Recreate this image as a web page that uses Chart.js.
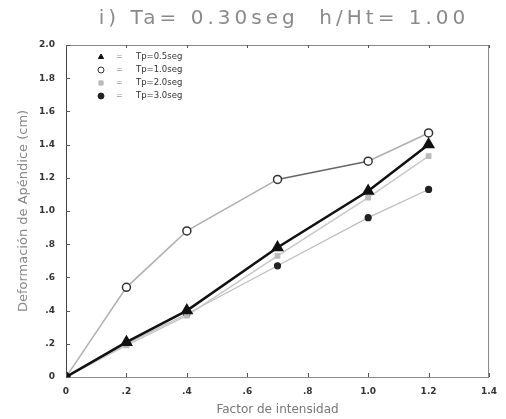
<!DOCTYPE html>
<html><head><meta charset="utf-8">
<script src="https://cdn.jsdelivr.net/npm/chart.js@4"></script>
<style>html,body{margin:0;padding:0;background:#fff;}#wrap{width:506px;height:419px;}</style>
</head><body><div id="wrap"><canvas id="c" width="506" height="419"></canvas></div>
<script>
const titleText = 'i) Ta= 0.30seg  h/Ht= 1.00';
const xTitle = 'Factor de intensidad';
const yTitle = 'Deformación de Apéndice (cm)';
const intensity = [0, 0.2, 0.4, 0.7, 1.0, 1.2];
const seriesLabels = ['Tp=0.5seg', 'Tp=1.0seg', 'Tp=2.0seg', 'Tp=3.0seg'];
const tp05 = [0, 0.21, 0.40, 0.78, 1.12, 1.40];
const tp10 = [0, 0.54, 0.88, 1.19, 1.30, 1.47];
const tp20 = [0, 0.19, 0.37, 0.73, 1.08, 1.33];
const tp30 = [0, 0.20, 0.38, 0.67, 0.96, 1.13];
const xTickValues = [0, 0.2, 0.4, 0.6, 0.8, 1.0, 1.2, 1.4];
const xTickLabels = ['0', '.2', '.4', '.6', '.8', '1.0', '1.2', '1.4'];
const yTickValues = [0, 0.2, 0.4, 0.6, 0.8, 1.0, 1.2, 1.4, 1.6, 1.8, 2.0];
const yTickLabels = ['0', '.2', '.4', '.6', '.8', '1.0', '1.2', '1.4', '1.6', '1.8', '2.0'];

function pts(arr) { return intensity.map((x, i) => ({ x: x, y: arr[i] })); }

const deco = {
  id: 'deco',
  afterDraw(chart) {
    const ctx = chart.ctx, a = chart.chartArea;
    const xs = chart.scales.x, ys = chart.scales.y;
    ctx.save();
    // frame
    ctx.strokeStyle = '#888'; ctx.lineWidth = 1;
    ctx.strokeRect(a.left + 0.5, a.top + 0.5, a.right - a.left - 1, a.bottom - a.top);
    ctx.strokeStyle = '#444';
    ctx.beginPath(); ctx.moveTo(a.left + 0.5, a.top); ctx.lineTo(a.left + 0.5, a.bottom); ctx.stroke();
    // inward ticks
    ctx.strokeStyle = '#555';
    ctx.beginPath();
    yTickValues.forEach(v => { const y = Math.round(ys.getPixelForValue(v)) + 0.5; ctx.moveTo(a.left, y); ctx.lineTo(a.left + 4, y); });
    xTickValues.forEach(v => { const x = Math.round(xs.getPixelForValue(v)) + 0.5; ctx.moveTo(x, a.bottom); ctx.lineTo(x, a.bottom - 4); ctx.moveTo(x, a.top); ctx.lineTo(x, a.top + 3); });
    ctx.stroke();
    // legend
    chart.data.datasets.forEach((ds, i) => {
      const y = a.top + 12 + i * 13;
      ctx.fillStyle = ds.pointBackgroundColor; ctx.strokeStyle = ds.pointBorderColor; ctx.lineWidth = 1;
      Chart.helpers.drawPoint(ctx, { pointStyle: ds.pointStyle, radius: 3, borderWidth: 1, rotation: 0 }, 101, y);
      ctx.font = '8px "DejaVu Sans"'; ctx.fillStyle = '#999'; ctx.textBaseline = 'middle'; ctx.textAlign = 'left';
      ctx.fillText('=', 116, y);
      ctx.fillStyle = '#333';
      ctx.font = '8.5px "DejaVu Sans"';
      ctx.fillText(ds.label, 136, y);
    });
    // title
    ctx.font = '20px "DejaVu Sans"';
    ctx.letterSpacing = '4px';
    ctx.fillStyle = '#8a8a8a'; ctx.textAlign = 'center'; ctx.textBaseline = 'middle';
    ctx.fillText(titleText, 284, 19);
    ctx.letterSpacing = '0px';
    ctx.restore();
  }
};

new Chart(document.getElementById('c'), {
  type: 'line',
  data: {
    datasets: [
      { label: seriesLabels[0], data: pts(tp05), borderColor: '#111', borderWidth: 2.5,
        pointStyle: 'triangle', pointRadius: 5, pointBackgroundColor: '#111', pointBorderColor: '#111' },
      { label: seriesLabels[1], data: pts(tp10), borderColor: '#b0b0b0', borderWidth: 1.5,
        segment: { borderColor: c => c.p0DataIndex === 3 ? '#666' : undefined },
        pointStyle: 'circle', pointRadius: 4, pointBackgroundColor: '#fff', pointBorderColor: '#333', pointBorderWidth: 1.5 },
      { label: seriesLabels[2], data: pts(tp20), borderColor: '#c8c8c8', borderWidth: 1.5,
        pointStyle: 'rect', pointRadius: 3, pointBackgroundColor: '#bbb', pointBorderColor: '#bbb' },
      { label: seriesLabels[3], data: pts(tp30), borderColor: '#bdbdbd', borderWidth: 1.2,
        pointStyle: 'circle', pointRadius: 3, pointBackgroundColor: '#222', pointBorderColor: '#222' }
    ]
  },
  options: {
    responsive: false, animation: false, devicePixelRatio: 1,
    layout: { padding: { top: 45, right: 3, left: 0, bottom: 0 } },
    plugins: { legend: { display: false }, title: { display: false }, tooltip: { enabled: false } },
    scales: {
      x: {
        type: 'linear', min: 0, max: 1.4,
        afterBuildTicks: s => { s.ticks = xTickValues.map(v => ({ value: v })); },
        afterFit: s => { s.height = 42; },
        grid: { display: false, drawTicks: false }, border: { display: false },
        ticks: { callback: (v, i) => xTickLabels[i], color: '#333', font: { size: 9, family: 'DejaVu Sans', weight: 'bold' }, padding: 9, maxRotation: 0, autoSkip: false },
        title: { display: true, text: xTitle, color: '#777', font: { size: 12, family: 'DejaVu Sans' }, padding: { top: 0, bottom: 2 } }
      },
      y: {
        type: 'linear', min: 0, max: 2.0,
        afterBuildTicks: s => { s.ticks = yTickValues.map(v => ({ value: v })); },
        afterFit: s => { s.width = 66; },
        grid: { display: false, drawTicks: false }, border: { display: false },
        ticks: { callback: (v, i) => yTickLabels[i], color: '#333', font: { size: 9, family: 'DejaVu Sans', weight: 'bold' }, padding: 11, autoSkip: false },
        title: { display: true, text: yTitle, color: '#888', font: { size: 13, family: 'DejaVu Sans' }, padding: { top: 16, bottom: 0 } }
      }
    }
  },
  plugins: [deco]
});
</script></body></html>
